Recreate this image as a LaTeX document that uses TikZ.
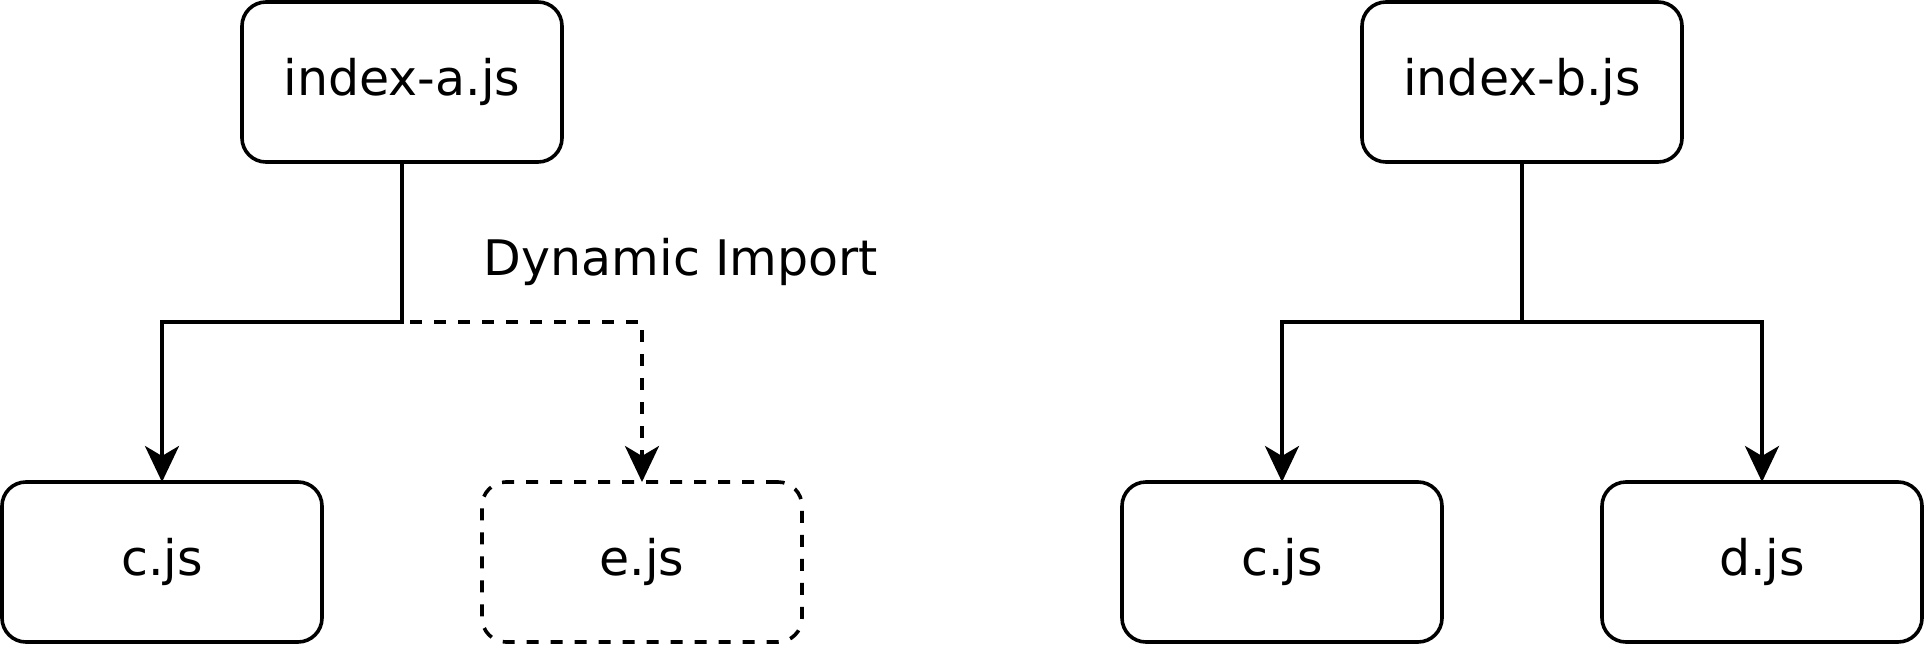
\documentclass[tikz,border=0pt]{standalone}
\usepackage{fontspec}
\setmainfont{DejaVu Sans}
\usetikzlibrary{arrows.meta}
\begin{document}
\begin{tikzpicture}[x=0.5pt,y=-0.5pt,
  filebox/.style={draw=black, line width=1.8pt, rounded corners=12pt, minimum width=160pt, minimum height=80pt, inner sep=0pt, outer sep=0pt, font=\fontsize{24.5pt}{28pt}\selectfont, fill=white},
  conn/.style={draw=black, line width=1.8pt, -{Stealth[length=18pt, width=17pt, inset=5pt]}},
  dashedline/.style={dash pattern=on 6pt off 6pt}
]
\useasboundingbox (0,0) rectangle (1928,648);
\node[filebox] (ia) at (402,82) {index-a.js};
\node[filebox] (c1) at (162,562) {c.js};
\node[filebox, dashedline] (e) at (642,562) {e.js};
\node[filebox] (ib) at (1522,82) {index-b.js};
\node[filebox] (c2) at (1282,562) {c.js};
\node[filebox] (d) at (1762,562) {d.js};
\node[anchor=base, inner sep=0pt, font=\fontsize{24.5pt}{28pt}\selectfont] (lbl) at (681,275) {Dynamic Import};
\draw[conn, dashedline] (ia.south) -- ++(0,160) -| (e.north);
\draw[conn] (ia.south) -- ++(0,160) -| (c1.north);
\draw[conn] (ib.south) -- ++(0,160) -| (c2.north);
\draw[conn] (ib.south) -- ++(0,160) -| (d.north);
\end{tikzpicture}
\end{document}
